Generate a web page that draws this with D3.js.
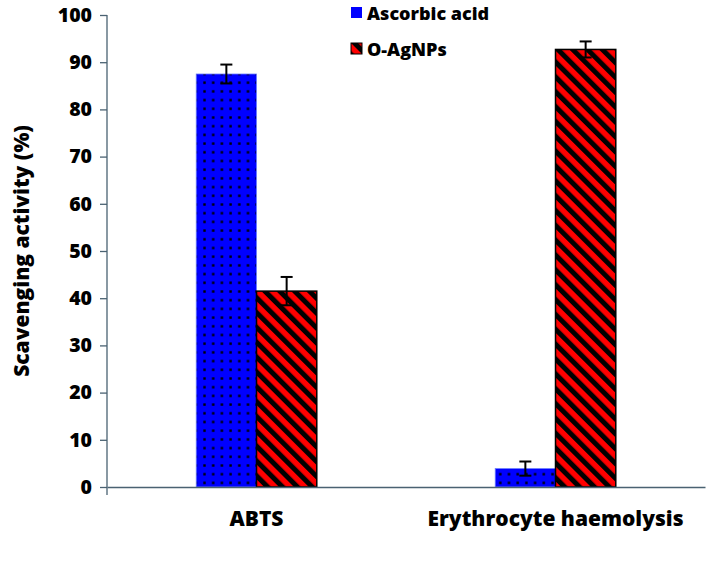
<!DOCTYPE html>
<html><head><meta charset="utf-8">
<script src="https://cdn.jsdelivr.net/npm/d3@7"></script>
<style>body{margin:0;background:#fff}svg{display:block}text{font-family:"Open Sans",sans-serif;font-weight:800}</style>
</head><body><div id="chart"></div>
<script>
const categories = ["ABTS", "Erythrocyte haemolysis"];
const seriesNames = ["Ascorbic acid", "O-AgNPs"];
const ascorbicValues = [87.5, 3.9];
const ascorbicErrors = [2.0, 1.5];
const agnpValues = [41.5, 92.7];
const agnpErrors = [3.0, 1.7];
const yTicks = [0,10,20,30,40,50,60,70,80,90,100];

const W = 708, H = 566;
const m = {left:107, right:3, top:15, bottom:79};
const FONT = '"Open Sans",sans-serif';
const svg = d3.select("#chart").append("svg").attr("width", W).attr("height", H);
const defs = svg.append("defs");
const dots = defs.append("pattern").attr("id","dots").attr("patternUnits","userSpaceOnUse").attr("width",8.7).attr("height",8.7);
dots.append("rect").attr("width",8.7).attr("height",8.7).attr("fill","#0000ff");
dots.append("rect").attr("x",3.2).attr("y",3.2).attr("width",2.4).attr("height",2.4).attr("fill","#000");
const hatch = defs.append("pattern").attr("id","hatch").attr("patternUnits","userSpaceOnUse").attr("width",10.5).attr("height",10.5).attr("patternTransform","rotate(-45)");
hatch.append("rect").attr("width",10.5).attr("height",10.5).attr("fill","#ff0000");
hatch.append("rect").attr("width",5).attr("height",10.5).attr("fill","#000");

const x = d3.scaleBand().domain(categories).range([m.left, W - m.right]);
const xs = d3.scaleBand().domain(seriesNames).range([0, x.bandwidth()]).paddingOuter(1.48).paddingInner(0);
const y = d3.scaleLinear().domain([0,100]).range([H - m.bottom, m.top]);

const data = [];
categories.forEach((c,i)=>{
  data.push({cat:c, s:seriesNames[0], v:ascorbicValues[i], e:ascorbicErrors[i]});
  data.push({cat:c, s:seriesNames[1], v:agnpValues[i], e:agnpErrors[i]});
});

svg.selectAll("rect.bar").data(data).enter().append("rect").attr("class","bar")
  .attr("x", d=>x(d.cat)+xs(d.s)).attr("width", xs.bandwidth())
  .attr("y", d=>y(d.v)).attr("height", d=>y(0)-y(d.v))
  .attr("fill", d=>d.s===seriesNames[0]?"url(#dots)":"url(#hatch)")
  .attr("stroke", d=>d.s===seriesNames[0]?"#6b7cff":"#000")
  .attr("stroke-width", d=>d.s===seriesNames[0]?0.8:1.5);

const eb = svg.selectAll("g.err").data(data).enter().append("g").attr("class","err")
  .attr("stroke","#000").attr("stroke-width",2);
eb.append("line").attr("x1",d=>x(d.cat)+xs(d.s)+xs.bandwidth()/2).attr("x2",d=>x(d.cat)+xs(d.s)+xs.bandwidth()/2)
  .attr("y1",d=>y(d.v+d.e)).attr("y2",d=>y(d.v-d.e));
[1,-1].forEach(sg=>{
  eb.append("line").attr("x1",d=>x(d.cat)+xs(d.s)+xs.bandwidth()/2-6).attr("x2",d=>x(d.cat)+xs(d.s)+xs.bandwidth()/2+6)
    .attr("y1",d=>y(d.v+sg*d.e)).attr("y2",d=>y(d.v+sg*d.e));
});

const axisColor = "#4a6272";
const ya = svg.append("g").attr("transform",`translate(${m.left},0)`)
  .call(d3.axisLeft(y).tickValues(yTicks).tickSize(7).tickPadding(8));
ya.select(".domain").attr("stroke",axisColor).attr("stroke-width",1.3).attr("d",`M-0,${m.top}V${H-m.bottom+8}`);
ya.selectAll(".tick line").attr("stroke",axisColor).attr("stroke-width",1.3);
ya.selectAll(".tick text").attr("font-size",19.5).attr("fill","#000").attr("font-family",FONT).attr("font-weight",800);

const xa = svg.append("g").attr("transform",`translate(0,${y(0)})`)
  .call(d3.axisBottom(x).tickSize(0).tickPadding(24));
xa.select(".domain").attr("stroke",axisColor).attr("stroke-width",1.3);
xa.selectAll(".tick text").attr("font-size",21).attr("fill","#000").attr("font-family",FONT).attr("font-weight",800);

svg.append("text").attr("transform",`translate(29,${(y(0)+y(100))/2}) rotate(-90)`)
  .attr("text-anchor","middle").attr("font-size",21).attr("fill","#000").text("Scavenging activity (%)");

const lg = svg.append("g").attr("transform","translate(351,7)");
seriesNames.forEach((s,i)=>{
  const g = lg.append("g").attr("transform",`translate(0,${i*36})`);
  g.append("rect").attr("width",11).attr("height",11).attr("fill",i===0?"#0000ff":"url(#hatch)").attr("stroke",i===0?"none":"#000").attr("stroke-width",1);
  g.append("text").attr("x",16).attr("y",12.5).attr("font-size",18).attr("fill","#000").text(s);
});
</script></body></html>
